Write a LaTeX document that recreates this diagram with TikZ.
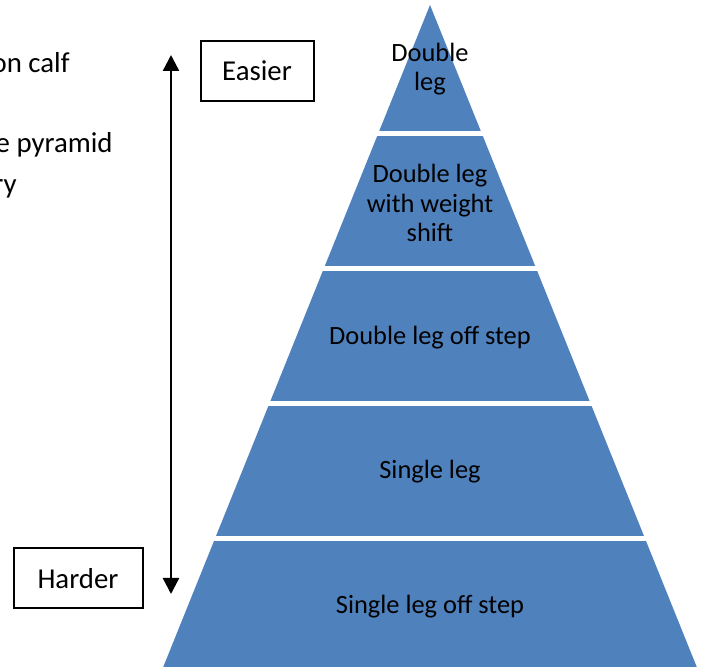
\documentclass[tikz,border=0pt]{standalone}
\usepackage{fontspec}
\setmainfont{Carlito}
\usetikzlibrary{positioning,arrows.meta}
\definecolor{pyrblue}{HTML}{4F81BD}

\begin{document}
\begin{tikzpicture}[x=0.5pt,y=-0.5pt,>={Triangle[length=8pt,width=8pt]},
  tiertext/.style={font=\fontsize{13.2}{14.75}\selectfont, align=center, inner sep=0pt},
  tagbox/.style={draw, line width=1pt, font=\fontsize{14.4}{17}\selectfont, minimum height=30pt, inner sep=0pt},
  fragtext/.style={font=\fontsize{14.4}{17}\selectfont, anchor=base east, inner sep=0pt}]

\useasboundingbox (0,0) rectangle (707,667);

% pyramid, cut in five tiers
\begin{scope}
\clip (430,5) -- (700,675) -- (160,675) -- cycle;
\foreach \i in {0,...,4}
  \fill[pyrblue] (150,135*\i+1) rectangle (710,135*\i+131);
\end{scope}

\node[tiertext] (t1) at (430,69) {Double\\leg};
\node[tiertext] (t2) at (430,203) {Double leg\\with weight\\shift};
\node[tiertext] (t3) at (430,338) {Double leg off step};
\node[tiertext] (t4) at (430,472) {Single leg};
\node[tiertext] (t5) at (430,607) {Single leg off step};

% labels and arrow
\node[tagbox, minimum width=56.5pt] (easier) at (257,71) {Easier};
\node[tagbox, minimum width=64.5pt] (harder) at (78,578.5) {Harder};

\coordinate (up) at (171,55);
\coordinate (down) at (171,594);
\draw[<->, line width=1.2pt] (up) -- (down);

% text cut off at the left edge
\node[fragtext] (f1) at (70,73) {on calf};
\node[fragtext] (f2) at (113,153) {e pyramid};
\node[fragtext] (f3) at (17,194) {ry};

\end{tikzpicture}
\end{document}
